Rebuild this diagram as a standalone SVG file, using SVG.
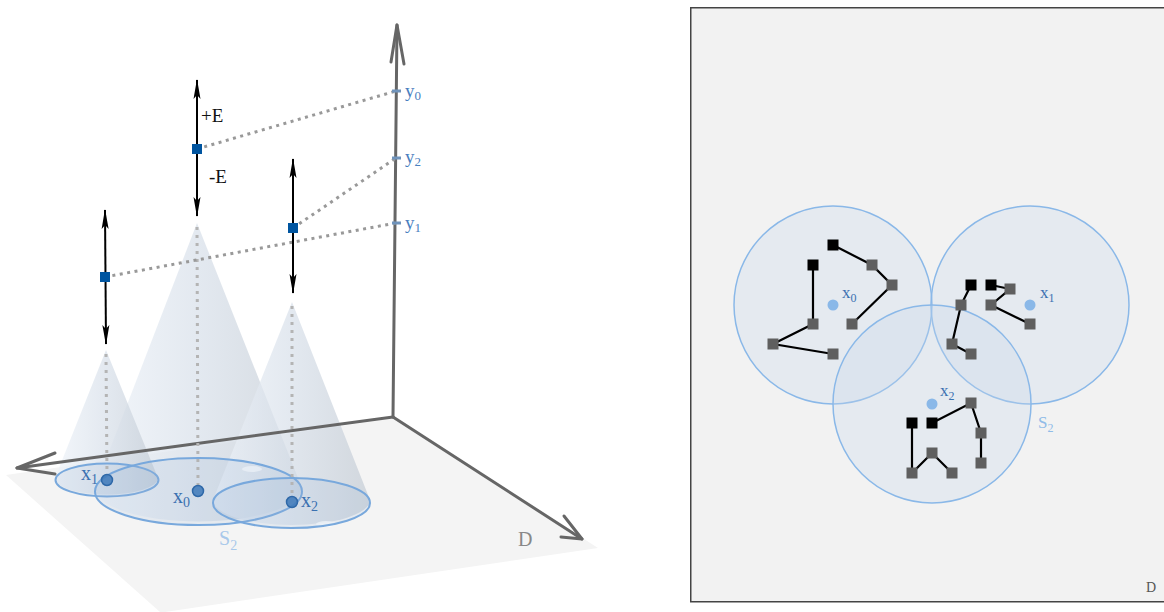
<svg xmlns="http://www.w3.org/2000/svg" width="1164" height="612" viewBox="0 0 1164 612">
<defs>
<style>
.serif{font-family:"Liberation Serif","DejaVu Serif",serif}
.axis{stroke:#666;stroke-width:3;fill:none;stroke-linecap:round;stroke-linejoin:round}
.dot3{stroke:#999;stroke-width:3;stroke-dasharray:3 4.5;fill:none}
.vdot{stroke:#b4b4b4;stroke-width:3;stroke-dasharray:3 5;fill:none}
.tick{stroke:#6f93bb;stroke-width:3}
.cone{fill:url(#coneGrad);opacity:0.72}
.ell{fill:#9ab8d8;fill-opacity:0.18;stroke:#78a8dc;stroke-width:2}
.pt{fill:#3c78b8;fill-opacity:0.85;stroke:#2e68a8;stroke-width:1.5}
.darr{stroke:#000;stroke-width:2;fill:none}
.bsq{fill:#0055a0}
.lbl{fill:#3a70b0}
.circ{fill:#c8d8ea;fill-opacity:0.3;stroke:#8ab8e8;stroke-width:1.5}
.cdot{fill:#8ab8e8}
.chain{stroke:#000;stroke-width:2.2;fill:none}
.sq{fill:#5f5f5f}
.sqk{fill:#000}
</style>
<linearGradient id="coneGrad" x1="0" y1="0" x2="1" y2="0">
<stop offset="0" stop-color="#eef3f9"/>
<stop offset="0.5" stop-color="#d8e0ea"/>
<stop offset="1" stop-color="#c4ccd5"/>
</linearGradient>
<marker id="ah" viewBox="0 0 20 8" refX="19" refY="4" markerWidth="20" markerHeight="8" markerUnits="userSpaceOnUse" orient="auto-start-reverse">
<path d="M20,4 L0,0.5 L4,4 L0,7.5 Z" fill="#000"/>
</marker>
</defs>

<g id="left-panel">
<polygon id="plane" points="6,475 396,418 598,548 165,612 160,612" fill="#f4f4f4"/>

<g id="cones">
<path id="cone0" class="cone" d="M197,223 L95,488 A103.5,33.5 0 0 0 302,488 Z"/>
<path id="cone2" class="cone" d="M292,302 L213,500 A78.5,25 0 0 0 370,500 Z"/>
<path id="cone1" class="cone" d="M106,350 L55,478 A51.5,16.5 0 0 0 158,478 Z"/>
<ellipse cx="252" cy="469" rx="10" ry="3" fill="#fff" opacity="0.7"/>
<ellipse cx="326" cy="524" rx="10" ry="3" fill="#fff" opacity="0.8"/>
</g>

<g id="axes">
<path class="axis" d="M393,417 L397,25"/>
<path class="axis" d="M391,62 L397,25 L404,64"/>
<path class="axis" d="M393,417 L17,468"/>
<path class="axis" d="M55,453 L17,468 L55,474"/>
<path class="axis" d="M393,417 L582,539"/>
<path class="axis" d="M564,516 L582,539 L561,537"/>
</g>
<text id="label-D" class="serif" x="518" y="546" font-size="20" fill="#888">D</text>

<g id="regions">
<ellipse class="ell" cx="107" cy="480" rx="51.5" ry="16.5"/>
<ellipse class="ell" cx="198.5" cy="491.5" rx="103.5" ry="33.5"/>
<ellipse class="ell" cx="291.5" cy="503" rx="78.5" ry="25"/>
</g>
<text id="label-S2-left" class="serif" x="219" y="545" font-size="20" fill="#a8c8ea">S<tspan font-size="14" dy="5">2</tspan></text>

<g id="vertical-dotted">
<path class="vdot" d="M106,354 L107,476"/>
<path class="vdot" d="M197,227 L198,487"/>
<path class="vdot" d="M292,306 L292,498"/>
</g>

<g id="node-x1"><circle class="pt" cx="107" cy="480" r="5.5"/><text class="serif lbl" x="81" y="480" font-size="20">x<tspan font-size="14" dy="4">1</tspan></text></g>
<g id="node-x0"><circle class="pt" cx="198" cy="491" r="5.5"/><text class="serif lbl" x="173" y="503" font-size="20">x<tspan font-size="14" dy="4">0</tspan></text></g>
<g id="node-x2"><circle class="pt" cx="292" cy="502" r="5.5"/><text class="serif lbl" x="301" y="507" font-size="20">x<tspan font-size="14" dy="4">2</tspan></text></g>

<g id="connectors">
<path class="dot3" d="M197,149 L396,91"/>
<path class="dot3" d="M293,228 L396,158"/>
<path class="dot3" d="M105,277 L396,223"/>
<path class="darr" d="M197,80 L197,216" marker-start="url(#ah)" marker-end="url(#ah)"/>
<path class="darr" d="M293,159 L293,293" marker-start="url(#ah)" marker-end="url(#ah)"/>
<path class="darr" d="M105,210 L106,344" marker-start="url(#ah)" marker-end="url(#ah)"/>
</g>

<g id="node-y0"><line class="tick" x1="392" y1="91" x2="401" y2="91"/><text class="serif" x="405" y="97" font-size="19" fill="#4a80c0">y<tspan font-size="13" dy="3">0</tspan></text></g>
<g id="node-y2"><line class="tick" x1="392" y1="158" x2="401" y2="158"/><text class="serif" x="405" y="163" font-size="19" fill="#4a80c0">y<tspan font-size="13" dy="3">2</tspan></text></g>
<g id="node-y1"><line class="tick" x1="392" y1="223" x2="401" y2="223"/><text class="serif" x="405" y="229" font-size="19" fill="#4a80c0">y<tspan font-size="13" dy="3">1</tspan></text></g>

<g id="node-e0"><rect class="bsq" x="192" y="144" width="10" height="10"/></g>
<g id="node-e2"><rect class="bsq" x="288" y="223" width="10" height="10"/></g>
<g id="node-e1"><rect class="bsq" x="100" y="272" width="10" height="10"/></g>
<text id="label-plusE" class="serif" x="201" y="122" font-size="19" fill="#111">+E</text>
<text id="label-minusE" class="serif" x="209" y="183" font-size="19" fill="#111">-E</text>
</g>

<g id="right-panel">
<rect x="690.75" y="7.75" width="480" height="594" fill="#f2f2f2" stroke="#444" stroke-width="1.5"/>
<text id="label-D-right" class="serif" x="1146" y="592" font-size="14" fill="#555">D</text>

<g id="region-x0"><circle class="circ" cx="833" cy="305" r="99"/><circle class="cdot" cx="833" cy="305" r="5.5"/><text class="serif lbl" x="842" y="298" font-size="17">x<tspan font-size="12" dy="4">0</tspan></text></g>
<g id="region-x1"><circle class="circ" cx="1030" cy="305" r="99"/><circle class="cdot" cx="1030" cy="305" r="5.5"/><text class="serif lbl" x="1040" y="298" font-size="17">x<tspan font-size="12" dy="4">1</tspan></text></g>
<g id="region-x2"><circle class="circ" cx="932" cy="404" r="99"/><circle class="cdot" cx="932" cy="404" r="5.5"/><text class="serif lbl" x="940" y="396" font-size="17">x<tspan font-size="12" dy="4">2</tspan></text></g>
<text id="label-S2-right" class="serif" x="1038" y="428" font-size="17" fill="#90bce8">S<tspan font-size="12" dy="4">2</tspan></text>

<g id="chains">
<polyline class="chain" points="833,245 872,265 892,285 852,324"/>
<polyline class="chain" points="813,265 813,324 773,344 833,354"/>
<polyline class="chain" points="971,285 961,305 952,344 971,354"/>
<polyline class="chain" points="991,285 1010,289 991,305 1030,324"/>
<polyline class="chain" points="932,423 971,403 981,433 981,463"/>
<polyline class="chain" points="912,423 912,473 932,453 952,473"/>
</g>
<g id="chain-nodes">
<rect class="sqk" x="827.5" y="239.5" width="11" height="11"/>
<rect class="sq" x="866.5" y="259.5" width="11" height="11"/>
<rect class="sq" x="886.5" y="279.5" width="11" height="11"/>
<rect class="sq" x="846.5" y="318.5" width="11" height="11"/>
<rect class="sqk" x="807.5" y="259.5" width="11" height="11"/>
<rect class="sq" x="807.5" y="318.5" width="11" height="11"/>
<rect class="sq" x="767.5" y="338.5" width="11" height="11"/>
<rect class="sq" x="827.5" y="348.5" width="11" height="11"/>
<rect class="sqk" x="965.5" y="279.5" width="11" height="11"/>
<rect class="sq" x="955.5" y="299.5" width="11" height="11"/>
<rect class="sq" x="946.5" y="338.5" width="11" height="11"/>
<rect class="sq" x="965.5" y="348.5" width="11" height="11"/>
<rect class="sqk" x="985.5" y="279.5" width="11" height="11"/>
<rect class="sq" x="1004.5" y="283.5" width="11" height="11"/>
<rect class="sq" x="985.5" y="299.5" width="11" height="11"/>
<rect class="sq" x="1024.5" y="318.5" width="11" height="11"/>
<rect class="sqk" x="926.5" y="417.5" width="11" height="11"/>
<rect class="sq" x="965.5" y="397.5" width="11" height="11"/>
<rect class="sq" x="975.5" y="427.5" width="11" height="11"/>
<rect class="sq" x="975.5" y="457.5" width="11" height="11"/>
<rect class="sqk" x="906.5" y="417.5" width="11" height="11"/>
<rect class="sq" x="906.5" y="467.5" width="11" height="11"/>
<rect class="sq" x="926.5" y="447.5" width="11" height="11"/>
<rect class="sq" x="946.5" y="467.5" width="11" height="11"/>
</g>
</g>
</svg>
